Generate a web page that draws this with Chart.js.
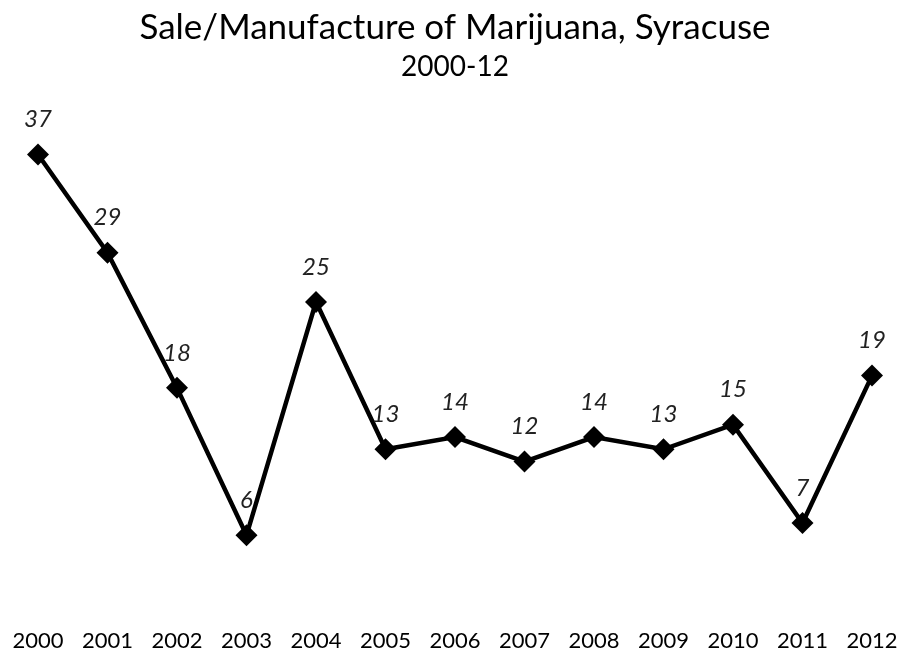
<!DOCTYPE html>
<html>
<head>
<meta charset="utf-8">
<script src="https://cdn.jsdelivr.net/npm/chart.js@4/dist/chart.umd.min.js"></script>
<style>
  html, body { margin: 0; padding: 0; background: #fff; }
  #wrap { width: 904px; height: 658px; }
</style>
</head>
<body>
<div id="wrap"><canvas id="salesChart" width="904" height="658"></canvas></div>
<script>
// --- data ---
const years = ['2000', '2001', '2002', '2003', '2004', '2005', '2006', '2007', '2008', '2009', '2010', '2011', '2012'];
const arrests = [37, 29, 18, 6, 25, 13, 14, 12, 14, 13, 15, 7, 19];

const FONT = 'Lato, "Open Sans", sans-serif';

// draws the italic value above each marker
const valueLabels = {
    id: 'valueLabels',
    afterDatasetsDraw(chart) {
        const ctx = chart.ctx;
        const meta = chart.getDatasetMeta(0);
        ctx.save();
        ctx.font = 'italic 24px ' + FONT;
        ctx.fillStyle = '#222';
        ctx.textAlign = 'center';
        ctx.textBaseline = 'middle';
        meta.data.forEach((pt, i) => {
            ctx.fillText(String(arrests[i]), pt.x, pt.y - 35);
        });
        ctx.restore();
    }
};

const ctx = document.getElementById('salesChart').getContext('2d');
const salesChart = new Chart(ctx, {
    type: 'line',
    data: {
        labels: years,
        datasets: [{
            data: arrests,
            borderColor: '#000',
            backgroundColor: '#000',
            borderWidth: 4.5,
            pointStyle: 'rectRot',
            pointRadius: 11,
            pointBorderWidth: 0,
            tension: 0
        }]
    },
    options: {
        responsive: false,
        animation: false,
        layout: { padding: { top: 7, left: 38, right: 32, bottom: 0 } },
        plugins: {
            legend: { display: false },
            tooltip: { enabled: false },
            title: {
                display: true,
                text: 'Sale/Manufacture of Marijuana, Syracuse',
                color: '#000',
                font: { family: FONT, size: 35, weight: 'normal' },
                padding: { top: 0, bottom: 1 }
            },
            subtitle: {
                display: true,
                text: '2000-12',
                color: '#000',
                font: { family: FONT, size: 28, weight: 'normal' },
                padding: { top: 0, bottom: 34 }
            }
        },
        scales: {
            x: {
                offset: false,
                grid: { display: false, drawTicks: false },
                border: { display: false },
                ticks: { color: '#000', padding: 19, font: { family: FONT, size: 22 }, maxRotation: 0, autoSkip: false },
                afterFit(scale) {
                    scale.height = 49;
                    scale.paddingLeft = 0;
                    scale.paddingRight = 0;
                }
            },
            y: {
                display: false,
                min: 0,
                max: 40
            }
        }
    },
    plugins: [valueLabels]
});
</script>
</body>
</html>
